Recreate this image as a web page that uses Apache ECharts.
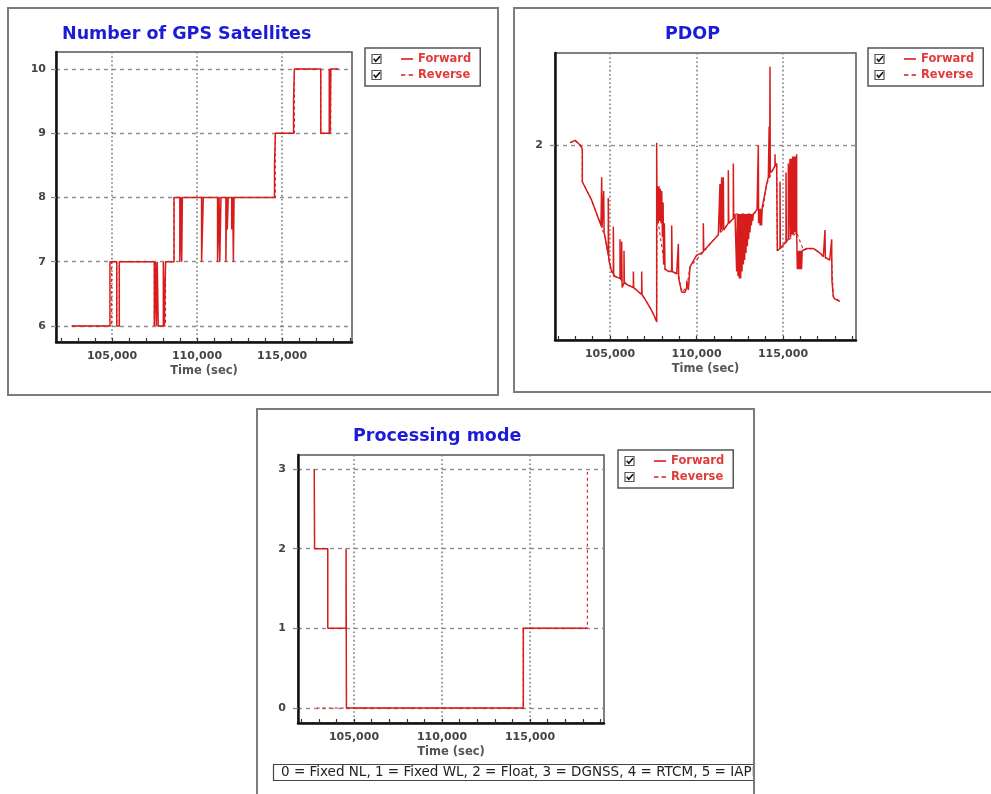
<!DOCTYPE html>
<html>
<head>
<meta charset="utf-8">
<script src="https://cdn.jsdelivr.net/npm/echarts@6/dist/echarts.min.js"></script>
<style>
  html, body { margin: 0; padding: 0; background: #ffffff; }
  #chart { width: 991px; height: 794px; }
</style>
</head>
<body>
<div id="chart"></div>
<script>
// ---- Number of GPS satellites: [time (s), count from that time on] ----
const satForward = [
  [102630, 6], [104880, 7], [105280, 6], [105430, 7], [107490, 6], [107560, 7], [107610, 6],
  [107660, 7], [107720, 6], [108020, 7], [108080, 6], [108150, 7], [108650, 8], [108990, 7],
  [109050, 8], [109100, 7], [109140, 8], [110270, 7], [110370, 8], [111210, 7], [111300, 8],
  [111340, 7], [111410, 8], [111700, 7], [111740, 8], [111780, 7.5], [111840, 8], [112040, 7.5],
  [112100, 8], [112140, 7], [112180, 8], [114560, 8.5], [114610, 9], [115680, 9.5], [115730, 10],
  [117280, 9], [117780, 10], [117830, 9], [117870, 10], [118310, 10]
];
const satReverse = [
  [102630, 6], [104980, 7], [105280, 6], [105430, 7], [107490, 6], [108150, 7], [108650, 8],
  [114610, 9], [115730, 10], [117280, 9], [117870, 10], [118310, 10]
];

// ---- PDOP: [time (s), PDOP] ----
const pdopForward = [
  [102690, 2.01], [102980, 2.02], [103270, 2.00], [103360, 1.99], [103400, 1.98], [103400, 1.84],
  [103940, 1.76], [104480, 1.65], [104520, 1.86], [104540, 1.64], [104635, 1.80], [104660, 1.62],
  [104712, 1.60], [104808, 1.56], [104905, 1.52], [104905, 1.77], [104925, 1.51], [104963, 1.49],
  [105097, 1.45], [105193, 1.44], [105193, 1.645], [105215, 1.43], [105290, 1.43], [105579, 1.42],
  [105579, 1.59], [105600, 1.42], [105676, 1.41], [105676, 1.58], [105700, 1.38], [105810, 1.40],
  [105810, 1.54], [105830, 1.40], [106061, 1.39], [106350, 1.38], [106350, 1.45], [106370, 1.38],
  [106832, 1.35], [106832, 1.45], [106850, 1.35], [107024, 1.33], [107410, 1.28], [107603, 1.25],
  [107698, 1.23], [107698, 2.01], [107720, 1.70], [107757, 1.82], [107790, 1.66], [107830, 1.82],
  [107870, 1.67], [107910, 1.81], [107950, 1.66], [107990, 1.80], [108030, 1.60], [108070, 1.75],
  [108100, 1.48], [108142, 1.66], [108180, 1.46], [108277, 1.46], [108373, 1.45], [108566, 1.45],
  [108566, 1.65], [108600, 1.45], [108855, 1.44], [108951, 1.44], [108951, 1.57], [108970, 1.42],
  [109144, 1.36], [109337, 1.36], [109433, 1.38], [109433, 1.41], [109529, 1.37], [109626, 1.47],
  [110000, 1.52], [110395, 1.535], [110395, 1.66], [110420, 1.54], [111264, 1.61], [111358, 1.61],
  [111358, 1.83], [111380, 1.62], [111455, 1.62], [111455, 1.86], [111475, 1.63], [111551, 1.63],
  [111551, 1.86], [111575, 1.63], [111840, 1.66], [111840, 1.89], [111865, 1.66], [112129, 1.68],
  [112129, 1.92], [112150, 1.68], [112225, 1.70],
  [112322, 1.45], [112360, 1.70], [112399, 1.43], [112437, 1.70], [112476, 1.42], [112514, 1.70],
  [112553, 1.42], [112591, 1.70], [112630, 1.45], [112668, 1.70], [112707, 1.48], [112745, 1.70],
  [112784, 1.50], [112823, 1.70], [112861, 1.53], [112900, 1.70], [112938, 1.56], [112977, 1.70],
  [113015, 1.59], [113054, 1.70], [113093, 1.62], [113131, 1.70], [113170, 1.65], [113208, 1.70],
  [113247, 1.67], [113285, 1.70],
  [113400, 1.71], [113500, 1.72], [113574, 1.72], [113574, 2.00], [113590, 1.66], [113640, 1.72],
  [113680, 1.65], [113720, 1.72], [113760, 1.65], [113800, 1.73], [113863, 1.73], [114056, 1.83],
  [114152, 1.86], [114200, 2.08], [114230, 1.86], [114249, 2.34], [114265, 1.88], [114400, 1.89],
  [114538, 1.91], [114538, 1.96], [114550, 1.91], [114634, 1.92], [114673, 1.92], [114673, 1.54],
  [114827, 1.55], [114827, 1.84], [114845, 1.55], [115174, 1.58], [115174, 1.88], [115195, 1.58],
  [115309, 1.59], [115309, 1.92], [115330, 1.59], [115405, 1.94], [115440, 1.60], [115480, 1.94],
  [115520, 1.61], [115560, 1.95], [115600, 1.61], [115640, 1.95], [115680, 1.62], [115720, 1.95],
  [115760, 1.62], [115790, 1.96], [115790, 1.62], [115829, 1.46], [115870, 1.54], [115910, 1.46],
  [115950, 1.54], [115990, 1.46], [116030, 1.54], [116070, 1.46], [116110, 1.54], [116176, 1.544],
  [116368, 1.55], [116754, 1.55], [117140, 1.53], [117332, 1.514], [117428, 1.51], [117428, 1.63],
  [117450, 1.51], [117525, 1.51], [117700, 1.50], [117814, 1.50], [117814, 1.59], [117830, 1.41],
  [117910, 1.34], [118006, 1.33], [118296, 1.32]
];
const pdopReverse = [
  [102690, 2.01], [102980, 2.02], [103270, 2.00], [103360, 1.99], [103400, 1.98], [103400, 1.84],
  [103940, 1.76], [104480, 1.65], [104712, 1.60], [104905, 1.52], [104905, 1.77], [104925, 1.51],
  [105097, 1.45], [105290, 1.43], [105579, 1.42], [106061, 1.39], [106350, 1.38], [106832, 1.35],
  [107024, 1.33], [107410, 1.28], [107698, 1.23], [107720, 1.70], [108180, 1.46], [108951, 1.44],
  [109144, 1.36], [109433, 1.38], [109626, 1.47], [110395, 1.535], [111264, 1.61], [112129, 1.68],
  [112225, 1.70], [113285, 1.70], [113863, 1.73], [114056, 1.83], [114400, 1.89], [114634, 1.92],
  [114673, 1.92], [114673, 1.54], [115790, 1.62], [116176, 1.544], [116754, 1.55], [117140, 1.53],
  [117428, 1.51], [117814, 1.50], [117910, 1.34], [118296, 1.32]
];

// ---- Processing mode: [time (s), mode from that time on] ----
const modeForward = [
  [102740, 3], [102760, 2], [103510, 1], [104550, 2], [104570, 0], [114620, 1], [118260, 1]
];
const modeReverse = [
  [102880, 0], [114620, 1], [118260, 3]
];

// ---- Axis ticks and texts ----
const timeLabels = [105000, 110000, 115000];
const timeMinorTicks = [102000, 103000, 104000, 105000, 106000, 107000, 108000, 109000, 110000,
  111000, 112000, 113000, 114000, 115000, 116000, 117000, 118000, 119000];
const satLabels = [6, 7, 8, 9, 10];
const pdopLabels = [2];
const modeLabels = [0, 1, 2, 3];
const modeCaption = '0 = Fixed NL, 1 = Fixed WL, 2 = Float, 3 = DGNSS, 4 = RTCM, 5 = IAPP';
const seriesNames = ['Forward', 'Reverse'];

// time ranges shown by each plot [min, max]
const timeRanges = [[101706, 119118], [101821, 119220], [101818, 119205]];

const RED = '#d81c1c';
const TITLE_BLUE = '#1c1cd6';
const LABEL_FONT = { fontFamily: 'DejaVu Sans', fontWeight: 'bold', fontSize: 11, color: '#444' };

function thousands(v) {
  return String(Math.round(v)).replace(/\B(?=(\d{3})+(?!\d))/g, ',');
}

// main time axis: labels, axis line and dotted grid lines every 5000 s
function timeAxis(gridIndex) {
  const [min, max] = timeRanges[gridIndex];
  return {
    type: 'value', gridIndex, min, max,
    name: 'Time (sec)', nameLocation: 'middle', nameGap: 23,
    nameTextStyle: { fontFamily: 'DejaVu Sans', fontWeight: 'bold', fontSize: 11.5, color: '#555' },
    axisLine: { show: true, onZero: false, lineStyle: { color: '#111', width: 2.5 } },
    axisTick: { show: false, customValues: timeLabels },
    axisLabel: Object.assign({ customValues: timeLabels, margin: 9, formatter: thousands }, LABEL_FONT),
    splitLine: { show: true, lineStyle: { color: '#7e7e7e', type: [1.6, 2.6], width: 1.6 } }
  };
}

// companion axis on the same plot carrying the 1000 s tick marks only
function timeTickAxis(gridIndex) {
  const [min, max] = timeRanges[gridIndex];
  return {
    type: 'value', gridIndex, min, max, position: 'bottom',
    axisLine: { show: false, onZero: false },
    axisTick: { show: true, inside: true, length: 4, customValues: timeMinorTicks,
      lineStyle: { color: '#333', width: 1.2 } },
    axisLabel: { show: false },
    splitLine: { show: false }
  };
}

function valueAxis(gridIndex, min, max, labels, margin) {
  return {
    type: 'value', gridIndex, min, max,
    axisLine: { show: true, onZero: false, lineStyle: { color: '#111', width: 2.5 } },
    axisTick: { show: true, length: 5, customValues: labels,
      lineStyle: { color: '#8e8e8e', width: 1.4 } },
    axisLabel: Object.assign({ customValues: labels, margin }, LABEL_FONT),
    splitLine: { show: true, lineStyle: { color: '#8e8e8e', type: [4, 4], width: 1.4 } }
  };
}

function gridBox(left, top, width, height) {
  return { left, top, width, height, show: true, borderColor: '#555', borderWidth: 1.5,
    backgroundColor: 'transparent' };
}

const forwardIcon = 'path://M0,0H12V1.6H0Z';
const reverseIcon = 'path://M0,0H4V1.6H0Z M7,0H11V1.6H7Z';

function legendAt(left, top) {
  return {
    left, top, orient: 'vertical', padding: [5, 9, 5, 36], itemGap: 4,
    itemWidth: 12, itemHeight: 12, borderColor: '#555', borderWidth: 1.5,
    backgroundColor: '#fff', selectedMode: false,
    textStyle: { fontFamily: 'DejaVu Sans', fontWeight: 'bold', fontSize: 11.5, color: '#e03c3c' },
    data: [{ name: seriesNames[0], icon: forwardIcon }, { name: seriesNames[1], icon: reverseIcon }]
  };
}

// small ticked checkbox drawn beside each legend row
function checkbox(x, yc) {
  const y = yc - 4.5;
  return [
    { type: 'rect', z: 100, shape: { x: x, y: y, width: 9, height: 9 },
      style: { fill: '#fff', stroke: '#555', lineWidth: 1.2 } },
    { type: 'polyline', z: 101,
      shape: { points: [[x + 1.8, y + 4.2], [x + 3.8, y + 6.8], [x + 8, y + 1.8]] },
      style: { fill: 'none', stroke: '#111', lineWidth: 1.6 } }
  ];
}
function legendChecks(left, top) {
  return checkbox(left + 7, top + 11).concat(checkbox(left + 7, top + 27));
}

function lineSeries(name, data, axisIndex, dashed, step) {
  return {
    name, type: 'line', xAxisIndex: axisIndex, yAxisIndex: axisIndex, data,
    step: step ? 'end' : false, showSymbol: false, symbol: 'none', silent: true,
    itemStyle: { color: RED },
    lineStyle: { color: RED, width: dashed ? 1.1 : 1.5, type: dashed ? [3, 3] : 'solid' },
    z: dashed ? 3 : 4
  };
}

const chart = echarts.init(document.getElementById('chart'), null, { renderer: 'canvas' });

const titleStyle = { fontFamily: 'DejaVu Sans', fontWeight: 'bold', fontSize: 17.5, color: TITLE_BLUE };

chart.setOption({
  backgroundColor: '#ffffff',
  animation: false,
  title: [
    { text: 'Number of GPS Satellites', left: 62, top: 25, padding: 0, textStyle: titleStyle },
    { text: 'PDOP', left: 665, top: 25, padding: 0, textStyle: titleStyle },
    { text: 'Processing mode', left: 353, top: 427, padding: 0, textStyle: titleStyle }
  ],
  legend: [legendAt(365, 48), legendAt(868, 48), legendAt(618, 450)],
  grid: [
    gridBox(56, 52, 296, 290),
    gridBox(555, 53, 301, 287),
    gridBox(298, 455, 306, 268)
  ],
  xAxis: [
    timeAxis(0), timeAxis(1), timeAxis(2),
    timeTickAxis(0), timeTickAxis(1), timeTickAxis(2)
  ],
  yAxis: [
    valueAxis(0, 5.75, 10.265, satLabels, 10),
    valueAxis(1, 1.152, 2.4, pdopLabels, 12),
    valueAxis(2, -0.188, 3.176, modeLabels, 12)
  ],
  series: [
    lineSeries(seriesNames[1], satReverse, 0, true, true),
    lineSeries(seriesNames[0], satForward, 0, false, true),
    lineSeries(seriesNames[1], pdopReverse, 1, true, false),
    lineSeries(seriesNames[0], pdopForward, 1, false, false),
    lineSeries(seriesNames[1], modeReverse, 2, true, true),
    lineSeries(seriesNames[0], modeForward, 2, false, true)
  ],
  graphic: [
    // panel frames
    { type: 'rect', z: 50, shape: { x: 8, y: 8, width: 490, height: 387 },
      style: { fill: 'none', stroke: '#7c7c7c', lineWidth: 2 } },
    { type: 'rect', z: 50, shape: { x: 514, y: 8, width: 500, height: 384 },
      style: { fill: 'none', stroke: '#7c7c7c', lineWidth: 2 } },
    // mode caption strip under the processing mode chart
    { type: 'rect', z: 60, shape: { x: 273.5, y: 764.5, width: 520, height: 16 },
      style: { fill: '#fff', stroke: '#444', lineWidth: 1.2 } },
    { type: 'text', z: 61, x: 281, y: 772.5,
      style: { text: modeCaption, fill: '#222', font: '13.5px "DejaVu Sans"', textVerticalAlign: 'middle' } },
    { type: 'rect', z: 62, shape: { x: 755, y: 755, width: 240, height: 40 },
      style: { fill: '#fff', stroke: null } },
    { type: 'rect', z: 63, shape: { x: 257, y: 409, width: 497, height: 400 },
      style: { fill: 'none', stroke: '#7c7c7c', lineWidth: 2 } }
  ].concat(legendChecks(365, 48), legendChecks(868, 48), legendChecks(618, 450))
});
</script>
</body>
</html>
